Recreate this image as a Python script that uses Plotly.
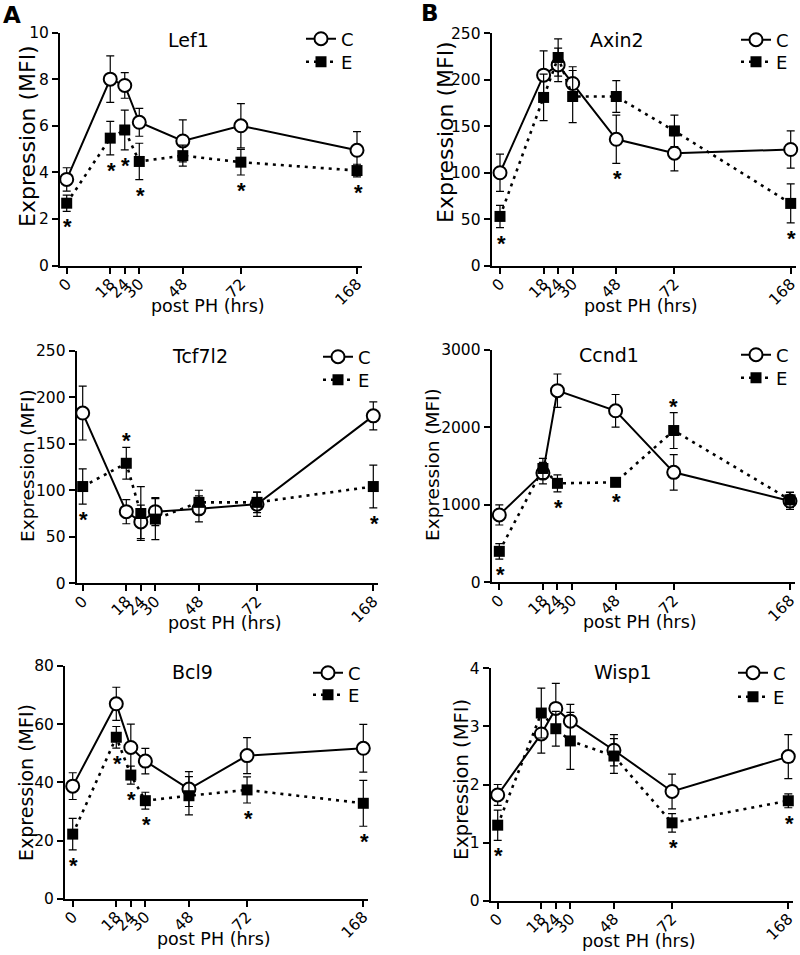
import plotly.graph_objects as go

# ---------------- data ----------------
HOURS = [0, 18, 24, 30, 48, 72, 168]
HOUR_LABELS = ["0", "18", "24", "30", "48", "72", "168"]

LEF1_C = [3.7, 8.0, 7.73, 6.15, 5.35, 6.0, 4.95]
LEF1_C_ERR = [0.5, 1.0, 0.55, 0.6, 0.9, 0.95, 0.8]
LEF1_E = [2.68, 5.47, 5.82, 4.47, 4.72, 4.44, 4.08]
LEF1_E_ERR = [0.35, 0.72, 0.85, 0.78, 0.45, 0.55, 0.27]
LEF1_STARS = {0: "below", 18: "below", 24: "below", 30: "below", 72: "below", 168: "below"}

AXIN2_C = [100, 205, 216, 196, 136, 121, 125]
AXIN2_C_ERR = [20, 26, 18, 18, 26, 19, 20]
AXIN2_E = [53, 181, 224, 182, 182, 145, 67]
AXIN2_E_ERR = [12, 25, 20, 28, 17, 17, 21]
AXIN2_STARS = {0: "below", 48: "below", 168: "below"}

TCF7L2_C = [183, 77, 66, 77, 80, 85, 180]
TCF7L2_C_ERR = [29, 13, 18, 15, 14, 13, 15]
TCF7L2_E = [104, 129, 75, 69, 87, 87, 104]
TCF7L2_E_ERR = [19, 17, 29, 22, 13, 11, 23]
TCF7L2_STARS = {0: "below", 18: "above", 168: "below"}

CCND1_C = [870, 1410, 2475, None, 2215, 1420, 1050]
CCND1_C_ERR = [130, 140, 215, None, 210, 230, 110]
CCND1_E = [400, 1470, 1278, None, 1291, 1960, 1065]
CCND1_E_ERR = [100, 130, 110, None, 45, 232, 100]
CCND1_STARS = {0: "below", 24: "below", 48: "below", 72: "above"}

BCL9_C = [38.7, 67.0, 52.0, 47.3, 37.7, 49.2, 51.7]
BCL9_C_ERR = [4.6, 5.7, 8.0, 4.4, 6.0, 6.2, 8.2]
BCL9_E = [22.2, 55.5, 42.5, 33.7, 35.4, 37.4, 32.8]
BCL9_E_ERR = [5.4, 3.7, 3.1, 2.9, 6.6, 4.5, 7.9]
BCL9_STARS = {0: "below", 18: "below", 24: "below", 30: "below", 72: "below", 168: "below"}

WISP1_C = [1.82, 2.87, 3.31, 3.09, 2.59, 1.88, 2.48]
WISP1_C_ERR = [0.18, 0.33, 0.43, 0.29, 0.27, 0.30, 0.38]
WISP1_E = [1.30, 3.23, 2.96, 2.75, 2.49, 1.34, 1.72]
WISP1_E_ERR = [0.26, 0.43, 0.30, 0.49, 0.30, 0.16, 0.12]
WISP1_STARS = {0: "below", 72: "below", 168: "below"}

GENES = ["Lef1", "Axin2", "Tcf7l2", "Ccnd1", "Bcl9", "Wisp1"]
SERIES = {
    "Lef1": (LEF1_C, LEF1_C_ERR, LEF1_E, LEF1_E_ERR, LEF1_STARS),
    "Axin2": (AXIN2_C, AXIN2_C_ERR, AXIN2_E, AXIN2_E_ERR, AXIN2_STARS),
    "Tcf7l2": (TCF7L2_C, TCF7L2_C_ERR, TCF7L2_E, TCF7L2_E_ERR, TCF7L2_STARS),
    "Ccnd1": (CCND1_C, CCND1_C_ERR, CCND1_E, CCND1_E_ERR, CCND1_STARS),
    "Bcl9": (BCL9_C, BCL9_C_ERR, BCL9_E, BCL9_E_ERR, BCL9_STARS),
    "Wisp1": (WISP1_C, WISP1_C_ERR, WISP1_E, WISP1_E_ERR, WISP1_STARS),
}
Y_AXES = {"Lef1": (10, 2), "Axin2": (250, 50), "Tcf7l2": (250, 50),
          "Ccnd1": (3000, 1000), "Bcl9": (80, 20), "Wisp1": (4, 1)}

# ---------------- layout geometry (pixels) ----------------
W, H = 800, 955
GEOM = {
    "Lef1":   dict(ax=60.0, x0=66.7, x1=357.0, top=32.5, bot=265.7, tx=188, ty=40,
                   ytx=27, yty=136, yts=22, lx=301, lyc=39, lye=62),
    "Axin2":  dict(ax=491.7, x0=500.0, x1=790.7, top=33.3, bot=265.7, tx=617, ty=40,
                   ytx=446, yty=132, yts=22, lx=736, lyc=40, lye=62),
    "Tcf7l2": dict(ax=76.7, x0=82.7, x1=373.3, top=350.7, bot=583.3, tx=200, ty=356,
                   ytx=27, yty=466, yts=18.5, lx=318, lyc=357, lye=380),
    "Ccnd1":  dict(ax=491.7, x0=499.3, x1=790.0, top=350.0, bot=582.3, tx=609, ty=355,
                   ytx=432, yty=465, yts=18.5, lx=736, lyc=355, lye=378),
    "Bcl9":   dict(ax=65.0, x0=72.7, x1=363.3, top=666.0, bot=898.7, tx=192, ty=672,
                   ytx=26, yty=783, yts=19, lx=308, lyc=673, lye=695),
    "Wisp1":  dict(ax=490.7, x0=497.7, x1=788.3, top=668.3, bot=900.7, tx=623, ty=672,
                   ytx=461, yty=780, yts=19.5, lx=733, lyc=673, lye=697),
}

FONT = "DejaVu Sans"


def hpos(h):
    """Two-segment time scale of the original axis: 0-72 h and 72-168 h."""
    return h / 120.0 if h <= 72 else 0.6 + (h - 72) / 240.0


def px(x):
    return x / W


def py(y):
    return 1 - y / H


def legend_key(n):
    return "legend" if n == 1 else "legend%d" % n


fig = go.Figure()
annotations = []
layout = {}

for i, gene in enumerate(GENES, start=1):
    C, CE, E, EE, STARS = SERIES[gene]
    g = GEOM[gene]
    sfx = "" if i == 1 else str(i)
    xa, ya = "x" + sfx, "y" + sfx
    leg_c, leg_e = legend_key(2 * i - 1), legend_key(2 * i)
    xs = [hpos(h) for h in HOURS]

    fig.add_trace(go.Scatter(
        x=xs, y=C, name="C", mode="lines+markers", xaxis=xa, yaxis=ya, legend=leg_c,
        connectgaps=True, cliponaxis=False,
        line=dict(color="black", width=2),
        marker=dict(symbol="circle", size=13, color="white", line=dict(color="black", width=2)),
        error_y=dict(type="data", array=CE, color="black", thickness=1.2, width=4),
    ))
    fig.add_trace(go.Scatter(
        x=xs, y=E, name="E", mode="lines+markers", xaxis=xa, yaxis=ya, legend=leg_e,
        connectgaps=True, cliponaxis=False,
        line=dict(color="black", width=2.6, dash="3px,5px"),
        marker=dict(symbol="square", size=11, color="black", line=dict(color="black", width=0)),
        error_y=dict(type="data", array=EE, color="black", thickness=1.2, width=4),
    ))

    unit = g["x1"] - g["x0"]
    xend = g["x1"] + 5
    ymax, ystep = Y_AXES[gene]
    layout["xaxis" + sfx] = dict(
        domain=[px(g["ax"]), px(xend)],
        range=[(g["ax"] - g["x0"]) / unit, (xend - g["x0"]) / unit],
        anchor=ya, tickvals=xs, ticktext=HOUR_LABELS, tickangle=-45,
        ticks="outside", ticklen=6, tickwidth=2, tickcolor="black",
        ticklabelstandoff=-5,
        showline=True, linewidth=2, linecolor="black",
        showgrid=False, zeroline=False, automargin=False,
        tickfont=dict(family=FONT, size=15.5, color="black"),
    )
    layout["yaxis" + sfx] = dict(
        domain=[py(g["bot"]), py(g["top"])],
        range=[0, ymax], anchor=xa,
        tickvals=list(range(0, ymax + 1, ystep)),
        ticks="outside", ticklen=6, tickwidth=2, tickcolor="black",
        showline=True, linewidth=2, linecolor="black",
        showgrid=False, zeroline=False, automargin=False,
        tickfont=dict(family=FONT, size=15.5, color="black"),
    )
    for key, yc in ((leg_c, g["lyc"]), (leg_e, g["lye"])):
        layout[key] = dict(
            x=px(g["lx"]), y=py(yc), xanchor="left", yanchor="middle",
            bgcolor="rgba(0,0,0,0)", borderwidth=0,
            font=dict(family=FONT, size=18, color="black"),
        )

    annotations.append(dict(text=gene, x=px(g["tx"]), y=py(g["ty"]), xref="paper", yref="paper",
                            showarrow=False, xanchor="center", yanchor="middle",
                            font=dict(family=FONT, size=19, color="black")))
    annotations.append(dict(text="post PH (hrs)", x=px((g["ax"] + xend) / 2 - 3), y=py(g["bot"] + 40),
                            xref="paper", yref="paper", showarrow=False,
                            xanchor="center", yanchor="middle",
                            font=dict(family=FONT, size=17.5, color="black")))
    annotations.append(dict(text="Expression (MFI)", x=px(g["ytx"]), y=py(g["yty"]),
                            xref="paper", yref="paper", showarrow=False, textangle=-90,
                            xanchor="center", yanchor="middle",
                            font=dict(family=FONT, size=g["yts"], color="black")))
    for h, where in STARS.items():
        k = HOURS.index(h)
        lows = [v - e for v, e in ((C[k], CE[k]), (E[k], EE[k])) if v is not None]
        highs = [v + e for v, e in ((C[k], CE[k]), (E[k], EE[k])) if v is not None]
        if where == "below":
            annotations.append(dict(text="<b>*</b>", x=hpos(h), y=min(lows), xref=xa, yref=ya,
                                    showarrow=False, xanchor="center", yanchor="top", yshift=-1, xshift=1,
                                    font=dict(family="Liberation Sans", size=22, color="black")))
        else:
            annotations.append(dict(text="<b>*</b>", x=hpos(h), y=max(highs), xref=xa, yref=ya,
                                    showarrow=False, xanchor="center", yanchor="bottom", yshift=-8,
                                    font=dict(family="Liberation Sans", size=22, color="black")))

annotations.append(dict(text="<b>A</b>", x=px(12), y=py(15), xref="paper", yref="paper", showarrow=False,
                        xanchor="center", yanchor="middle", font=dict(family=FONT, size=23, color="black")))
annotations.append(dict(text="<b>B</b>", x=px(430), y=py(13), xref="paper", yref="paper", showarrow=False,
                        xanchor="center", yanchor="middle", font=dict(family=FONT, size=23, color="black")))

fig.update_layout(
    width=W, height=H, autosize=False,
    margin=dict(l=0, r=0, t=0, b=0, pad=0, autoexpand=False),
    paper_bgcolor="white", plot_bgcolor="white",
    showlegend=True, annotations=annotations,
    font=dict(family=FONT, color="black"),
    **layout,
)

fig.write_html("out.html", config={"displayModeBar": False},
               post_script="document.body.style.margin='0px';document.body.style.padding='0px';"
                           "document.body.style.overflow='hidden';")
